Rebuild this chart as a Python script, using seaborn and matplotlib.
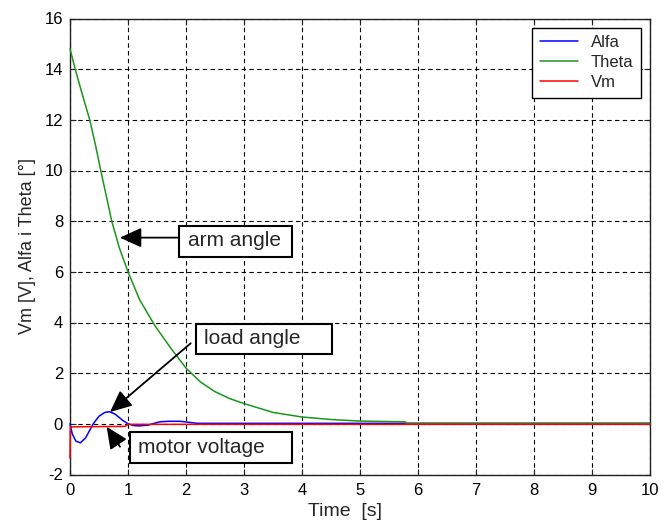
import numpy as np
import pandas as pd
import matplotlib
matplotlib.use("Agg")
import matplotlib.pyplot as plt
from matplotlib.patches import Rectangle
import seaborn as sns

# ---- data ----
t_alfa = [0, 0.04, 0.1, 0.18, 0.27, 0.4, 0.5, 0.6, 0.68, 0.78, 0.9, 1.0,
          1.1, 1.2, 1.35, 1.45, 1.55, 1.7, 1.9, 2.05, 2.2, 2.4, 10]
alfa = [0, -0.4, -0.68, -0.75, -0.55, 0.0, 0.3, 0.45, 0.48, 0.38, 0.15, 0.0,
        -0.07, -0.08, -0.05, 0.02, 0.08, 0.1, 0.1, 0.06, 0.02, 0.02, 0.02]

t_theta = [0, 0.09, 0.2, 0.34, 0.44, 0.53, 0.63, 0.72, 0.85, 1.0, 1.2, 1.47,
           1.75, 2.0, 2.25, 2.5, 2.75, 3.0, 3.5, 4.0, 4.5, 5.0, 5.5, 5.78,
           5.8, 10]
theta = [14.8, 14.0, 13.1, 12.0, 11.0, 10.0, 8.95, 8.0, 6.95, 6.0, 4.9, 3.85,
         2.95, 2.2, 1.65, 1.27, 1.0, 0.8, 0.45, 0.27, 0.17, 0.11, 0.09, 0.08,
         0.02, 0.02]

t_vm = [0, 0.005, 0.95, 1.0, 10]
vm = [-1.35, -0.12, -0.1, -0.02, -0.02]

series_names = ["Alfa", "Theta", "Vm"]
series_colors = ["#0000ff", "#1a961a", "#ff0000"]

x_ticks = [0, 1, 2, 3, 4, 5, 6, 7, 8, 9, 10]
y_ticks = [-2, 0, 2, 4, 6, 8, 10, 12, 14, 16]

x_label = "Time  [s]"
y_label = "Vm [V], Alfa i Theta [°]"

annot_texts = ["arm angle", "load angle", "motor voltage"]
# text anchors (data coords) and box extents
annot_text_xy = [(2.034, 7.22), (2.31, 3.36), (1.178, -0.92)]
annot_boxes = [(1.879, 6.60, 3.828, 7.82), (2.172, 2.76, 4.512, 3.94),
               (1.034, -1.56, 3.828, -0.31)]
annot_tails = [(1.88, 7.35), (2.081, 3.18), (0.862, -0.904)]
annot_tips = [(0.86, 7.35), (0.69, 0.466), (0.632, -0.115)]

# ---- build dataframe ----
df = pd.concat([
    pd.DataFrame({"t": t_alfa, "v": alfa, "s": "Alfa"}),
    pd.DataFrame({"t": t_theta, "v": theta, "s": "Theta"}),
    pd.DataFrame({"t": t_vm, "v": vm, "s": "Vm"}),
], ignore_index=True)

sns.set_theme(style="white")
plt.rcParams["font.family"] = ["Liberation Sans", "DejaVu Sans"]
plt.rcParams["axes.unicode_minus"] = False

fig = plt.figure(figsize=(6.68, 5.28), dpi=100, facecolor="white")
ax = fig.add_axes([70 / 668, (528 - 474.5) / 528, 580 / 668, 456 / 528])

sns.lineplot(data=df, x="t", y="v", hue="s", hue_order=series_names,
             palette=dict(zip(series_names, series_colors)), sort=False,
             estimator=None, linewidth=1.1, ax=ax)
for ln in ax.get_lines():
    ln.set_zorder(3)
    ln.set_clip_on(False)

ax.set_xlim(0, 10)
ax.set_ylim(-2, 16)
ax.set_xticks(x_ticks)
ax.set_yticks(y_ticks)
ax.grid(True, color="black", linestyle=(0, (4, 3)), linewidth=0.8)
ax.set_axisbelow(True)
for sp in ax.spines.values():
    sp.set_color("#222222")
    sp.set_linewidth(1.0)
    sp.set_zorder(2.5)
ax.tick_params(direction="in", length=4, width=0.8, top=True, right=True,
               bottom=True, left=True, labelsize=12, colors="#222222",
               labelcolor="black")
ax.tick_params(axis="x", pad=6)
ax.tick_params(axis="y", pad=5)

ax.set_xlabel(x_label, fontsize=14)
ax.set_ylabel(y_label, fontsize=13)
ax.xaxis.set_label_coords(0.475, -0.062)
ax.yaxis.set_label_coords(-0.058, 0.5)

leg = ax.legend(loc="upper right", fontsize=12, frameon=True, fancybox=False,
                edgecolor="black", framealpha=1, handlelength=2.3,
                labelspacing=0.3, borderaxespad=0.55, handletextpad=0.75,
                borderpad=0.45)
leg.get_frame().set_linewidth(1.0)
leg.set_title(None)
leg.set_zorder(7)

for txt, (tx, ty), (x0, y0, x1, y1), tail, tip in zip(
        annot_texts, annot_text_xy, annot_boxes, annot_tails, annot_tips):
    ax.add_patch(Rectangle((x0, y0), x1 - x0, y1 - y0, facecolor="white",
                           edgecolor="black", linewidth=1.5, zorder=5))
    ax.text(tx, ty, txt, fontsize=15, ha="left", va="center", zorder=6)
    ax.annotate("", xy=tip, xytext=tail,
                arrowprops=dict(arrowstyle="-|>,head_length=1.1,head_width=0.5",
                                mutation_scale=12, color="black", lw=1.3,
                                shrinkA=0, shrinkB=0),
                zorder=6)

fig.savefig("out.png", dpi=100, facecolor="white")
